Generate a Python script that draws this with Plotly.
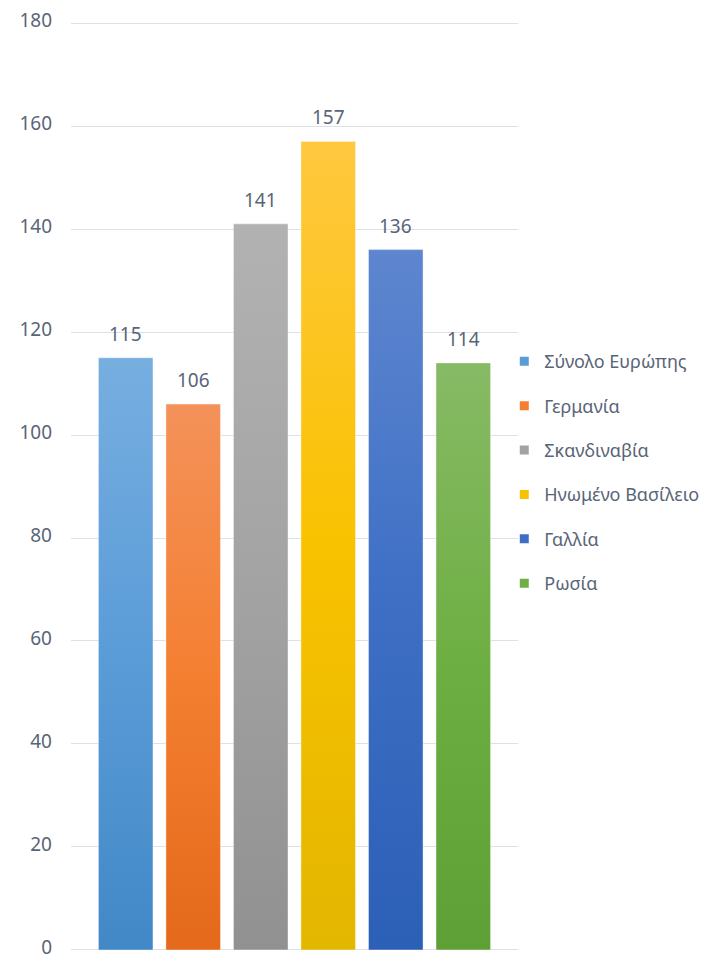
import plotly.graph_objects as go

# Index values per region
regions = ["Σύνολο Ευρώπης", "Γερμανία", "Σκανδιναβία", "Ηνωμένο Βασίλειο", "Γαλλία", "Ρωσία"]
values = [115, 106, 141, 157, 136, 114]

# Gradient colours per bar: (bottom, middle, top)
base_colors = ["#5A9CD8", "#F47F31", "#A3A3A3", "#F9C200", "#3E6FC5", "#6EAF43"]
dark_colors = ["#4288C7", "#E4691A", "#919191", "#E3B600", "#2C5FB6", "#5FA036"]
light_colors = ["#77AEE0", "#F4925A", "#B2B2B2", "#FFC83F", "#5E86CF", "#87BA65"]

y_ticks = [0, 20, 40, 60, 80, 100, 120, 140, 160, 180]

FONT = "Noto Sans"
TEXT_COLOR = "#596577"
HALF_WIDTH = 0.404

fig = go.Figure()

for i, (name, v) in enumerate(zip(regions, values)):
    x0, x1 = i - HALF_WIDTH, i + HALF_WIDTH
    # bar body as a filled polygon with a vertical gradient
    fig.add_trace(go.Scatter(
        x=[x0, x0, x1, x1, x0],
        y=[0, v, v, 0, 0],
        mode="lines",
        line=dict(width=0.8, color="rgba(255,255,255,0.5)"),
        fill="toself",
        fillgradient=dict(
            type="vertical",
            colorscale=[[0, dark_colors[i]], [0.5, base_colors[i]], [1, light_colors[i]]],
        ),
        hoverinfo="skip",
        showlegend=False,
    ))
    # legend entry: small square swatch
    fig.add_trace(go.Scatter(
        x=[None], y=[None], name=name, mode="markers",
        marker=dict(symbol="square", size=9, color=base_colors[i]),
        legendgroup=name,
        showlegend=True,
    ))
    # value label above the bar
    fig.add_annotation(
        x=i, y=v, text=str(v), showarrow=False,
        yanchor="bottom", yshift=9,
        font=dict(family=FONT, size=19, color=TEXT_COLOR),
    )

fig.update_layout(
    width=711, height=960,
    margin=dict(l=71, r=0, t=22, b=9),
    paper_bgcolor="white",
    plot_bgcolor="white",
    font=dict(family=FONT, color=TEXT_COLOR),
    legend=dict(
        x=0.677, y=0.515, xanchor="left", yanchor="middle",
        font=dict(family=FONT, size=18, color=TEXT_COLOR),
        tracegroupgap=18,
        itemwidth=30,
        bgcolor="rgba(0,0,0,0)",
    ),
    xaxis=dict(
        domain=[0, 0.6984],
        range=[-0.81, 5.81],
        showticklabels=False, showgrid=False, zeroline=False, showline=False,
        automargin=False,
        fixedrange=True,
    ),
    yaxis=dict(
        range=[-0.2, 180.2],
        tickvals=y_ticks,
        ticktext=[str(t) for t in y_ticks],
        showgrid=True, gridcolor="#DCE1E8", gridwidth=1,
        zeroline=False, showline=False,
        ticks="", ticklabelstandoff=18,
        ticklabelshift=-3,
        ticklabeloverflow="allow",
        automargin=False,
        tickfont=dict(family=FONT, size=19, color=TEXT_COLOR),
        fixedrange=True,
    ),
)

fig.write_html("out.html")
